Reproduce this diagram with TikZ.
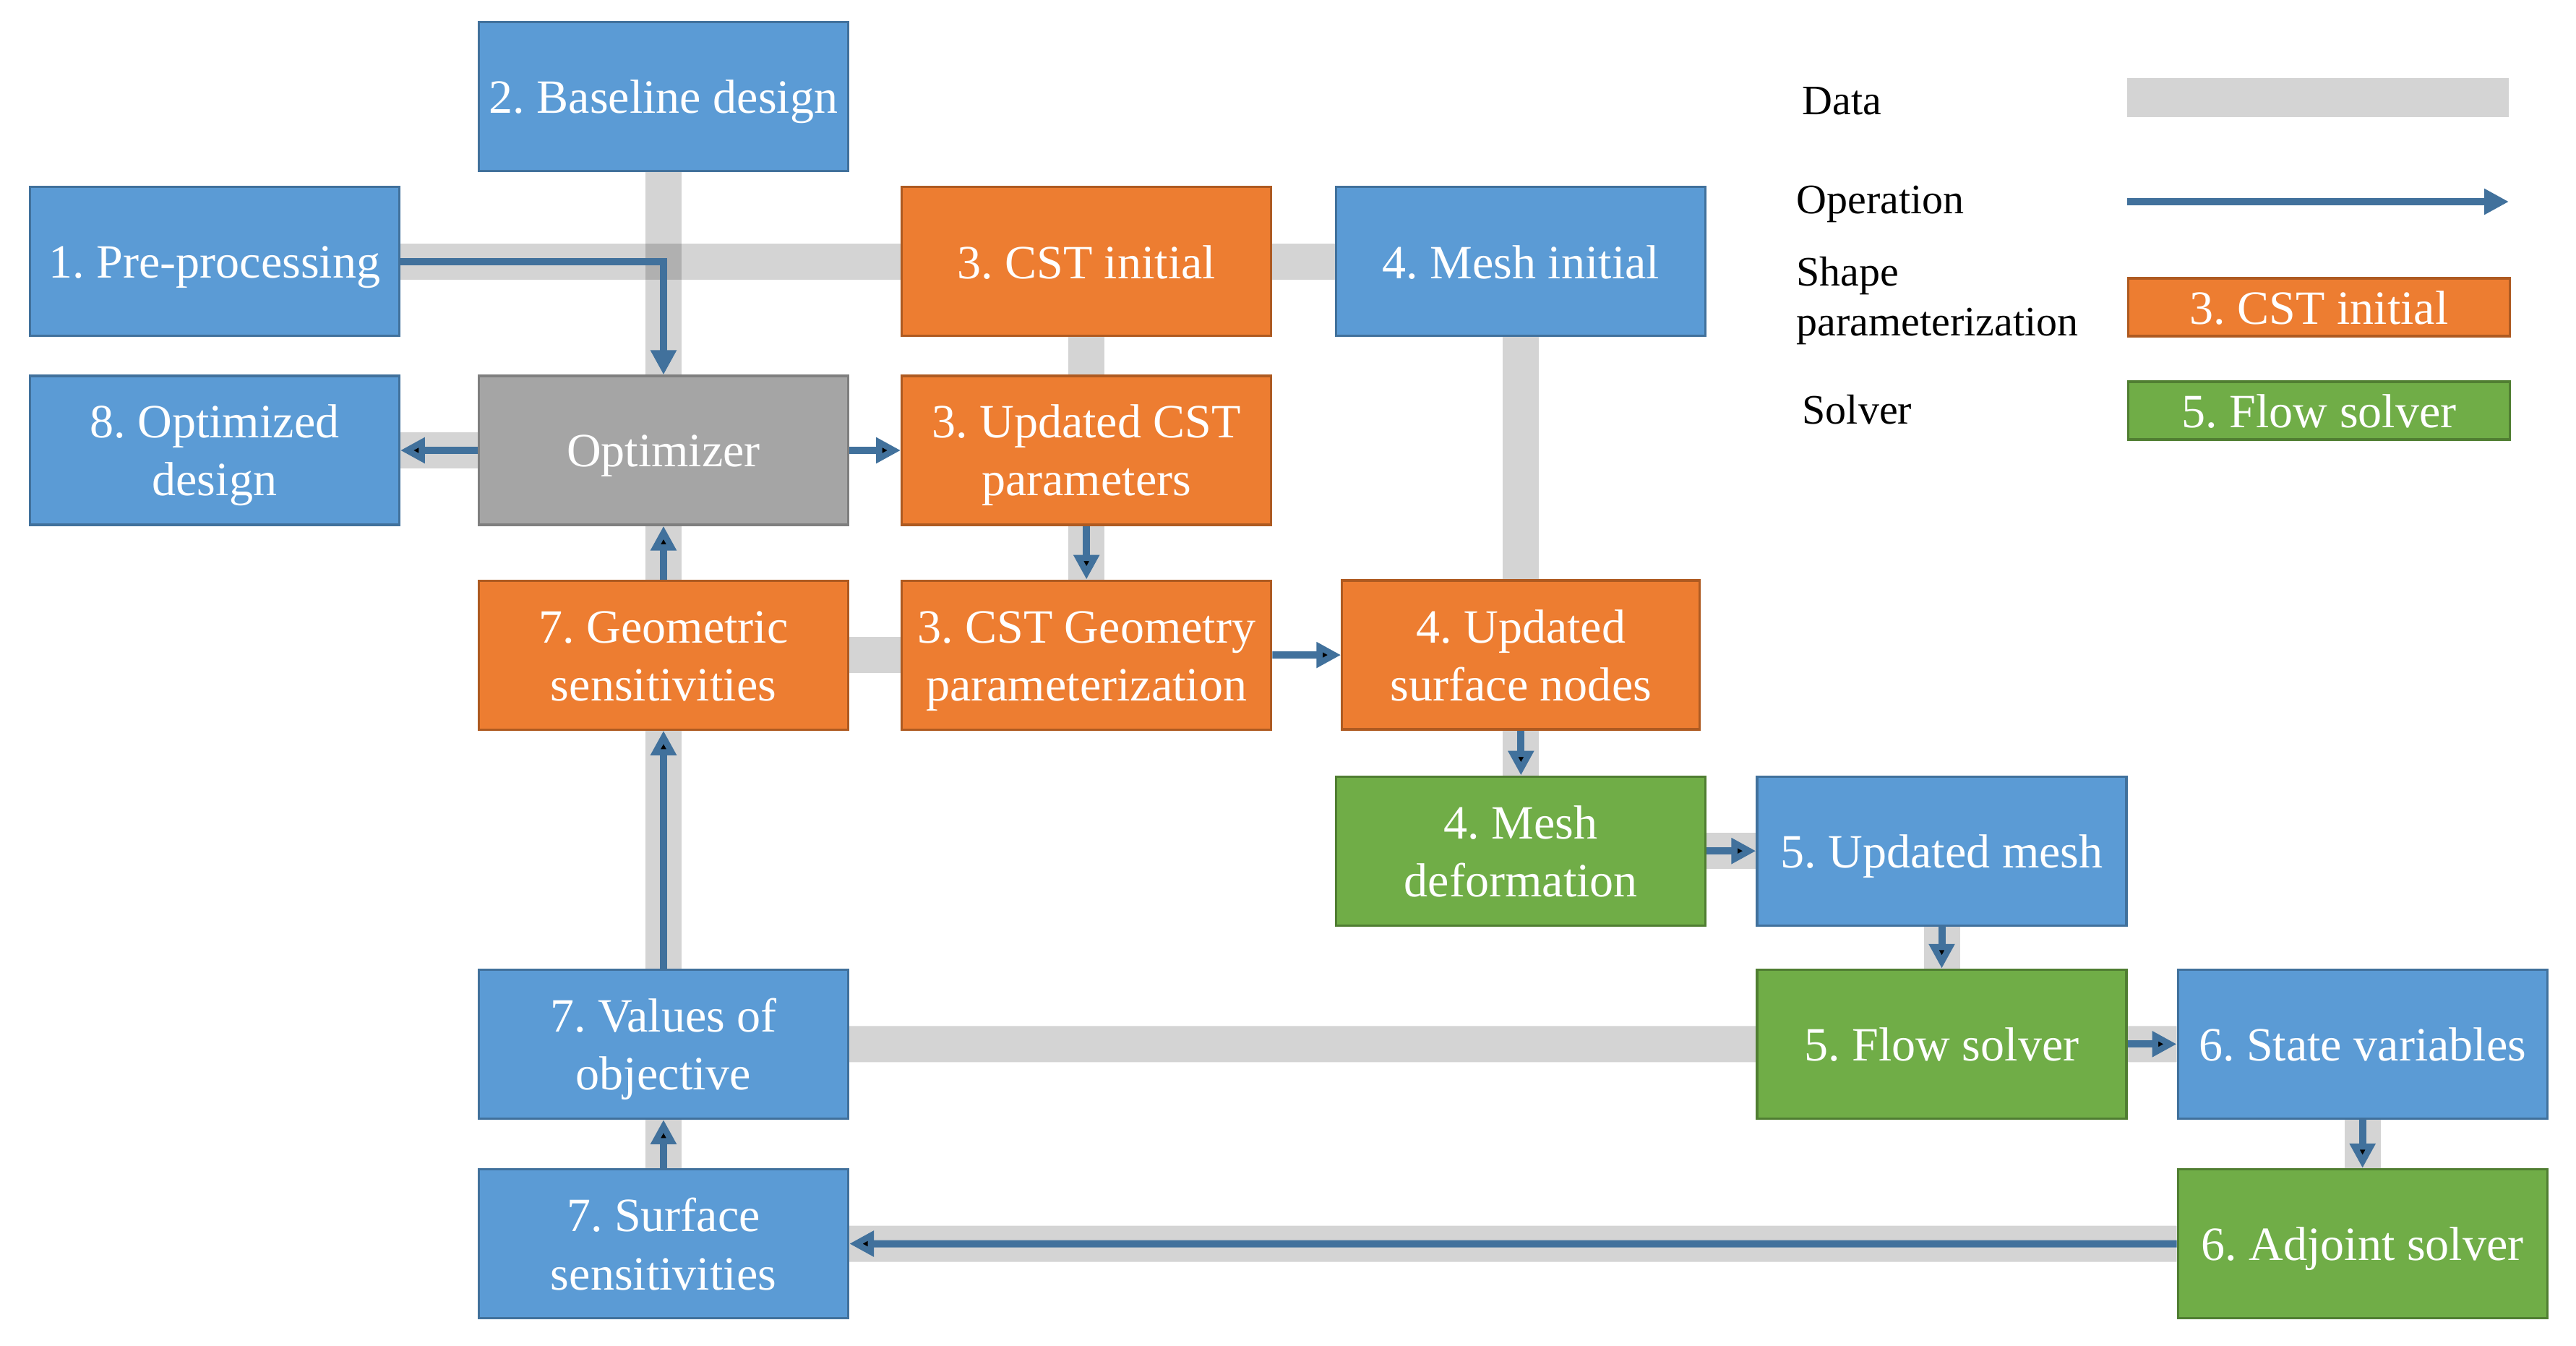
\documentclass[tikz,border=0pt]{standalone}
\usepackage{fontspec}
\setmainfont{Liberation Serif}
\usetikzlibrary{positioning,arrows.meta,backgrounds}
\frenchspacing

\definecolor{boxblue}{HTML}{5B9BD5}
\definecolor{edgeblue}{HTML}{41719C}
\definecolor{boxorange}{HTML}{ED7D31}
\definecolor{edgeorange}{HTML}{AE5A21}
\definecolor{boxgreen}{HTML}{70AD47}
\definecolor{edgegreen}{HTML}{507E32}
\definecolor{boxgray}{HTML}{A5A5A5}
\definecolor{edgegray}{HTML}{7F7F7F}
\definecolor{arrowblue}{HTML}{41719C}

\newcommand{\boxstrut}{\rule[-0.13cm]{0pt}{0.73cm}}
\newcommand{\tallstrut}{\rule{0pt}{1.40cm}}

\begin{document}
\begin{tikzpicture}[>={Triangle[length=0.34cm,width=0.34cm]}, node distance=0.7cm,
    main node/.style={rectangle, draw, line width=0.9pt, minimum width=5.11cm, minimum height=2.06cm, inner sep=1pt, align=center, text=white, font=\fontsize{18.8}{22.8}\selectfont, execute at begin node=\boxstrut, execute at end node=\boxstrut},
    two lines/.style={execute at begin node=\tallstrut},
    blue node/.style={main node, fill=boxblue, draw=edgeblue},
    orange node/.style={main node, fill=boxorange, draw=edgeorange},
    green node/.style={main node, fill=boxgreen, draw=edgegreen},
    gray node/.style={main node, fill=boxgray, draw=edgegray},
    data band/.style={line width=0.5cm, draw=black, draw opacity=0.17},
    op arrow/.style={->, line width=0.1cm, draw=arrowblue},
    legend text/.style={inner sep=0pt, align=left, text=black, font=\fontsize{16.5}{19.6}\selectfont}]

    \useasboundingbox (0,0) rectangle (35.64,-18.61);

    \node[gray node] (opt) at (9.18,-6.23) {Optimizer};
    \node[blue node] (base) [above=2.80cm of opt] {2. Baseline design};
    \node[blue node, two lines] (optd) [left=1.07cm of opt] {8. Optimized\\design};
    \node[blue node] (pre) [above=0.52cm of optd] {1. Pre-processing};
    \node[orange node, two lines] (cstupd) [right=0.71cm of opt] {3. Updated CST\\parameters};
    \node[orange node] (cstinit) [above=0.52cm of cstupd] {3. CST initial};
    \node[blue node] (meshinit) [right=0.87cm of cstinit] {4. Mesh initial};

    \node[orange node, two lines] (geosens) [below=0.74cm of opt] {7. Geometric\\sensitivities};
    \node[orange node, two lines] (cstgeo) [right=0.71cm of geosens] {3. CST Geometry\\parameterization};
    \node[orange node, two lines, minimum width=4.95cm] (surfnodes) [below=3.35cm of meshinit] {4. Updated\\surface nodes};

    \node[green node, two lines] (meshdef) [below=0.62cm of surfnodes] {4. Mesh\\deformation};
    \node[blue node] (updmesh) [right=0.68cm of meshdef] {5. Updated mesh};
    \node[green node] (flow) [below=0.58cm of updmesh] {5. Flow solver};
    \node[blue node] (state) [right=0.68cm of flow] {6. State variables};
    \node[green node] (adjoint) [below=0.67cm of state] {6. Adjoint solver};

    \node[blue node, two lines] (valobj) [below=3.29cm of geosens] {7. Values of\\objective};
    \node[blue node, two lines] (surfsens) [below=0.67cm of valobj] {7. Surface\\sensitivities};

    % legend
    \node[legend text, anchor=base west] (ldata) at (24.93,-1.58) {Data};
    \coordinate (dataa) at (29.43,-1.35);
    \coordinate (datab) at (34.71,-1.35);
    \draw[data band, line width=0.54cm] (dataa) -- (datab);
    \node[legend text, anchor=base west] (lop) at (24.85,-2.95) {Operation};
    \coordinate (opa) at (29.43,-2.79);
    \coordinate (opb) at (34.71,-2.79);
    \draw[op arrow] (opa) -- (opb);
    \node[legend text, anchor=west] (lshape) at (24.85,-4.16) {Shape\\parameterization};
    \node[orange node, minimum width=5.28cm, minimum height=0.80cm] (lcst) at (32.085,-4.25) {3. CST initial};
    \node[legend text, anchor=base west] (lsolver) at (24.93,-5.86) {Solver};
    \node[green node, minimum width=5.28cm, minimum height=0.77cm] (lflow) at (32.085,-5.68) {5. Flow solver};

    % data links
    \begin{pgfonlayer}{background}
        \draw[data band] (pre) -- (cstinit) -- (meshinit);
        \draw[data band] (base) -- (opt);
        \draw[data band] (opt) -- (optd);
        \draw[data band] (cstinit) -- (cstupd);
        \draw[data band] (cstupd) -- (cstgeo);
        \draw[data band] (meshinit) -- (surfnodes);
        \draw[data band] (geosens) -- (cstgeo);
        \draw[data band] (geosens) -- (opt);
        \draw[data band] (surfnodes) -- (meshdef);
        \draw[data band] (meshdef) -- (updmesh);
        \draw[data band] (updmesh) -- (flow);
        \draw[data band] (valobj) -- (flow) -- (state);
        \draw[data band] (state) -- (adjoint);
        \draw[data band] (adjoint) -- (surfsens);
        \draw[data band] (surfsens) -- (valobj) -- (geosens);
    \end{pgfonlayer}

    % operations
    \draw[op arrow] (pre.east) -| (opt.north);
    \path[op arrow]
        (opt) edge (optd)
        (opt) edge (cstupd)
        (cstupd) edge (cstgeo)
        (cstgeo) edge (surfnodes)
        (geosens) edge (opt)
        (surfnodes) edge (meshdef)
        (meshdef) edge (updmesh)
        (updmesh) edge (flow)
        (flow) edge (state)
        (state) edge (adjoint)
        (adjoint) edge (surfsens)
        (surfsens) edge (valobj)
        (valobj) edge (geosens)
        ;
\end{tikzpicture}
\end{document}
